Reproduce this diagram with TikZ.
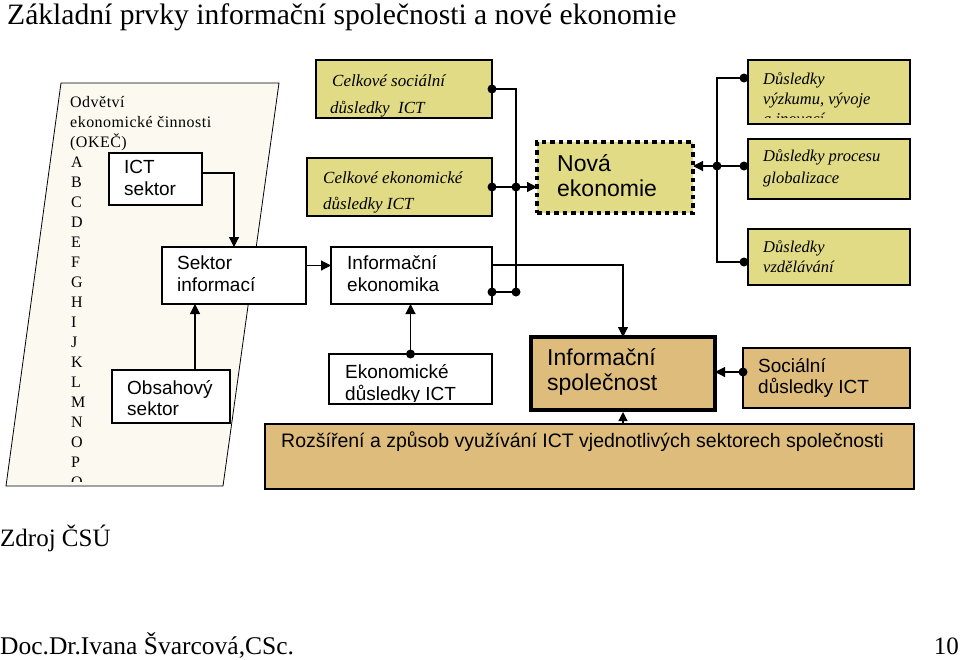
\documentclass[tikz,border=0pt]{standalone}
\usepackage{fontspec}
\setmainfont{Liberation Serif}
\newfontfamily\sansf{Liberation Sans}
\newfontfamily\okecf{Liberation Serif}[LetterSpace=3]
\usetikzlibrary{arrows.meta,fit,calc}
\definecolor{khaki}{RGB}{224,219,132}
\definecolor{tanc}{RGB}{222,189,124}
\definecolor{creamc}{RGB}{252,249,240}
\tikzset{
  boxbase/.style={draw=black, line width=1.2pt, inner sep=0pt, outer sep=0pt},
  wbox/.style={boxbase, fill=white},
  kbox/.style={boxbase, fill=khaki},
  tbox/.style={boxbase, fill=tanc},
  tx/.style={inner sep=0pt, anchor=base west},
  sanstx/.style={tx, font=\sansf\fontsize{19}{22}\selectfont},
  bigtx/.style={tx, font=\sansf\fontsize{23}{26}\selectfont},
  ittx/.style={tx, font=\itshape\fontsize{17}{20}\selectfont},
  rittx/.style={tx, font=\itshape\fontsize{16.5}{20}\selectfont},
  okectx/.style={tx, font=\okecf\fontsize{16}{18}\selectfont},
  conn/.style={line width=1.2pt},
  arr/.style={conn, -{Triangle[length=10pt,width=10pt]}},
  jdot/.style={fill=black}
}
\begin{document}
\begin{tikzpicture}[x=1pt,y=-1pt]
\useasboundingbox (0,0) rectangle (960,659);

% title and footer
\node[tx, font=\fontsize{29.6}{34}\selectfont] (title) at (7,24) {Základní prvky informační společnosti a nové ekonomie};
\node[tx, font=\fontsize{25}{30}\selectfont] (zdroj) at (0,546) {Zdroj ČSÚ};
\node[tx, font=\fontsize{25.5}{30}\selectfont] (autor) at (0,654) {Doc.Dr.Ivana Švarcová,CSc.};
\node[inner sep=0pt, anchor=base east, font=\fontsize{25}{30}\selectfont] (page) at (959,654) {10};

% OKEC parallelogram
\filldraw[fill=creamc, draw=black, line width=0.8pt] (61,83) -- (279,83) -- (223,486) -- (6,486) -- cycle;
\begin{scope}
  \clip (0,83) rectangle (300,481);
  \node[okectx] (ok1) at (70,107) {Odvětví};
  \node[okectx] (ok2) at (70,127) {ekonomické činnosti};
  \node[okectx] (ok3) at (70,147) {(OKEČ)};
  \foreach \L [count=\i from 0] in {A,B,C,D,E,F,G,H,I,J,K,L,M,N,O,P,Q}
    \node[okectx] (okl\i) at (71,{167+20*\i}) {\L};
\end{scope}

% white boxes
\node[wbox, fit={(109,153) (202,205)}] (ict) {};
\node[sanstx] (ictA) at (124,173) {ICT};
\node[sanstx] (ictB) at (124,195) {sektor};

\node[wbox, fit={(162,247) (306,304)}] (seki) {};
\node[sanstx] (sekiA) at (177,269) {Sektor};
\node[sanstx] (sekiB) at (177,291) {informací};

\node[wbox, fit={(112,370) (230,423)}] (obs) {};
\node[sanstx] (obsA) at (127,394) {Obsahový};
\node[sanstx] (obsB) at (127,415) {sektor};

\node[wbox, fit={(331,247) (492,304)}] (infek) {};
\node[sanstx] (infekA) at (347,269) {Informační};
\node[sanstx] (infekB) at (347,291) {ekonomika};

\node[wbox, fit={(329,354) (492,404)}] (ekd) {};
\begin{scope}
  \clip (330,355) rectangle (491,401);
  \node[sanstx] (ekdA) at (345,378) {Ekonomické};
  \node[sanstx] (ekdB) at (345,400) {důsledky ICT};
\end{scope}

% khaki boxes
\node[kbox, fit={(316,60) (492,118)}] (cso) {};
\node[ittx] (csoA) at (332,86) {Celkové sociální};
\node[ittx] (csoB) at (330,113) {důsledky\ \ ICT};

\node[kbox, fit={(307,158) (492,216)}] (cek) {};
\node[ittx] (cekA) at (323,183) {Celkové ekonomické};
\node[ittx] (cekB) at (323,209) {důsledky ICT};

\node[kbox, draw=black, line width=4pt, dash pattern=on 4.5pt off 4pt, fit={(537,142) (693,213)}] (nova) {};
\node[bigtx] (novaA) at (557,171) {Nová};
\node[bigtx] (novaB) at (557,196) {ekonomie};

\node[kbox, fit={(748,60) (910,124)}] (dvv) {};
\begin{scope}
  \clip (749,61) rectangle (909,117);
  \node[rittx] (dvvA) at (763,84) {Důsledky};
  \node[rittx] (dvvB) at (763,104) {výzkumu, vývoje};
  \node[rittx] (dvvC) at (763,124) {a inovací};
\end{scope}

\node[kbox, fit={(748,139) (910,199)}] (dpg) {};
\node[rittx] (dpgA) at (763,161) {Důsledky procesu};
\node[rittx] (dpgB) at (763,183) {globalizace};

\node[kbox, fit={(748,229) (910,285)}] (dvz) {};
\node[rittx] (dvzA) at (763,252) {Důsledky};
\node[rittx] (dvzB) at (763,272) {vzdělávání};

% tan boxes
\node[tbox, line width=3.5pt, fit={(531,337) (715,410)}] (ispol) {};
\node[bigtx] (ispolA) at (547,365) {Informační};
\node[bigtx] (ispolB) at (547,390) {společnost};

\node[tbox, fit={(743,348) (910,408)}] (soc) {};
\node[sanstx] (socA) at (758,372) {Sociální};
\node[sanstx] (socB) at (758,393) {důsledky ICT};

\node[tbox, fit={(265,424) (914,489)}] (roz) {};
\node[sanstx, font=\sansf\fontsize{19.5}{22}\selectfont] (rozA) at (281,447) {Rozšíření a způsob využívání ICT vjednotlivých sektorech společnosti};

% connectors, left part
\draw[arr] ($(ict.east)+(0,-6)$) -| (seki.north);
\coordinate (o1) at ($(obs.north)+(24,0)$);
\draw[arr] (o1) -- (o1 |- seki.south);
\coordinate (s1) at ($(seki.east)+(0,-10)$);
\draw[arr] (s1) -- (s1 -| infek.west);
\draw[arr] (ekd.north) -- (ekd.north |- infek.south);
\fill[jdot] (ekd.north) circle (4.5pt);

% left bus to Nova ekonomie
\coordinate (busx) at (516,0);
\coordinate (j1) at ($(infek.east)+(0,16.5)$);
\draw[conn] (cso.east) -| (j1 -| busx) -- (j1);
\draw[arr] (cek.east) -- (cek.east -| nova.west);
\foreach \p in {(cso.east),(cek.east),(cek.east -| busx),(j1),(j1 -| busx)}
  \fill[jdot] \p circle (4.5pt);

% Informacni ekonomika to Informacni spolecnost
\draw[arr] ($(infek.east)+(0,-10.5)$) -| (ispol.north);

% right bus
\coordinate (rbus) at (717,0);
\coordinate (d1) at ($(dvv.west)+(-4,-14)$);
\coordinate (d2) at ($(dpg.west)+(-4,-3)$);
\coordinate (d3) at ($(dvz.west)+(-4,5)$);
\draw[conn] (d1) -- (d1 -| rbus) -- (d3 -| rbus) -- (d3);
\draw[conn] (d2) -- (d2 -| rbus);
\draw[arr] (d2 -| rbus) -- (d2 -| nova.east);
\foreach \p in {(d1),(d2),(d3),(d2 -| rbus)}
  \fill[jdot] \p circle (4.5pt);

% social and spread
\coordinate (sc) at ($(soc.west)+(0,-6)$);
\draw[arr] (sc) -- (sc -| ispol.east);
\fill[jdot] (sc) circle (4.5pt);
\draw[conn, -{Triangle[length=9pt,width=9pt]}] (ispol.south |- roz.north) -- ($(ispol.south)+(0,2)$);
\end{tikzpicture}
\end{document}
